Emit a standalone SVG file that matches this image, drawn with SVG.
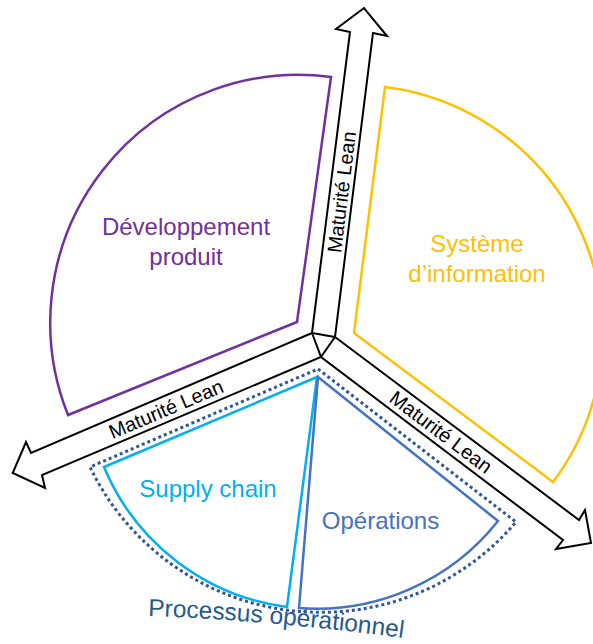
<svg xmlns="http://www.w3.org/2000/svg" width="593" height="644" viewBox="0 0 593 644">
<style>
  .arrow { fill: none; stroke: #000; stroke-width: 2; stroke-linejoin: miter; }
  .lbl { font-family: "Liberation Sans", Arial, sans-serif; font-size: 20px; fill: #000; text-anchor: middle; dominant-baseline: central; }
  .big { font-family: "Liberation Sans", Arial, sans-serif; font-size: 24px; text-anchor: middle; }
  .sector { fill: none; stroke-width: 2.5; stroke-linejoin: miter; }
</style>
<rect width="593" height="644" fill="#fff"/>
<g id="connectors">
  <polygon class="arrow" points="312,333 350,32 336,29 364,8 387,36 373,33 335,337"/>
  <polygon class="arrow" points="312,333 31,453 26,442 12.7,473 45,488 42,475 321,357"/>
  <polygon class="arrow" points="335,337 579,520 585,510 591,543 556,549 563,540 321,357"/>
  <text class="lbl" transform="translate(341.5,192) rotate(-82.9)">Maturité Lean</text>
  <text class="lbl" transform="translate(166,409) rotate(-23)">Maturité Lean</text>
  <text class="lbl" transform="translate(441,432) rotate(37)">Maturité Lean</text>
</g>
<g id="developpement">
  <path class="sector" stroke="#7030A0" d="M331,77 L297,322 L68,415 A248,248 0 0 1 331,77 Z"/>
  <text class="big" fill="#7030A0" x="186" y="235">Développement</text>
  <text class="big" fill="#7030A0" x="186" y="265">produit</text>
</g>
<g id="systeme">
  <path class="sector" stroke="#FFC000" d="M385,87 L354,333 L553,482 A248,248 0 0 0 385,87 Z"/>
  <text class="big" fill="#FFC000" x="477" y="252">Système</text>
  <text class="big" fill="#FFC000" x="477" y="282">d’information</text>
</g>
<g id="processus">
  <path fill="none" stroke="#2F5597" stroke-width="3" stroke-dasharray="3 3" d="M318,369 L516,522 A256,256 0 0 1 90,467 Z"/>
  <path id="procPath" fill="none" stroke="none" d="M148,616 Q276.5,620.5 410,639"/>
  <text font-family="Liberation Sans, Arial, sans-serif" font-size="24.5" fill="#245A8C"><textPath href="#procPath">Processus opérationnel</textPath></text>
</g>
<g id="supply">
  <path class="sector" stroke="#00B0F0" d="M317,377 L104,467 A231,231 0 0 0 287,607 Z"/>
  <text class="big" fill="#00B0F0" x="208" y="497">Supply chain</text>
</g>
<g id="operations">
  <path class="sector" stroke="#4472C4" d="M318,377 L498,521 A231,231 0 0 1 299,608 Z"/>
  <text class="big" fill="#4472C4" x="380.5" y="529">Opérations</text>
</g>
</svg>
